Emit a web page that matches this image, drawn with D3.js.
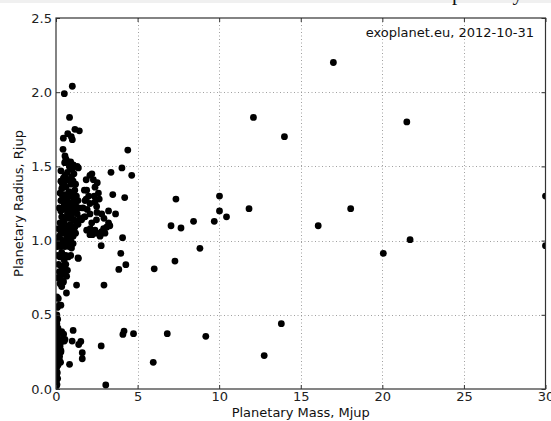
<!DOCTYPE html>
<html lang="en">
<head>
<meta charset="utf-8">
<script src="https://d3js.org/d3.v7.min.js"></script>
<style>
  body { margin: 0; background: #fff; }
  svg { display: block; }
  text { font-family: "DejaVu Sans", sans-serif; }
</style>
</head>
<body>
<svg width="551" height="421"></svg>
<script>
// planetary mass (Mjup) and radius (Rjup)
var mass = [
  0.51, 1.0, 0.83, 17.0, 12.1, 21.5, 14.0, 4.4, 4.04, 4.64, 3.37, 3.48, 4.21, 7.35, 10.02, 10.02, 10.45, 9.7, 8.43, 7.05,
  7.66, 11.83, 18.06, 16.07, 21.7, 20.06, 30.0, 30.0, 8.82, 7.29, 6.02, 4.08, 3.97, 3.85, 4.28, 3.65, 2.77, 2.94, 1.26, 1.35,
  0.64, 13.81, 9.18, 6.82, 4.75, 4.17, 4.1, 12.76, 5.96, 2.77, 3.05, 0.83, 1.05, 0.99, 1.39, 1.52, 1.61, 1.61,
  // upper cluster
  0.45, 0.72, 1.0, 0.94, 1.16, 1.43, 0.43, 0.55, 0.65, 0.53, 0.82, 1.06, 1.37, 0.6, 0.9,
  // right lobe
  2.08, 2.29, 2.39, 2.6, 1.88, 1.78, 2.08, 2.49, 2.8, 2.08, 1.78, 2.19, 2.39, 2.7, 2.8, 3.1, 3.0, 1.88, 2.08, 1.57,
  1.74, 2.34, 2.2, 2.53, 1.85, 2.39, 2.51, 2.48, 2.92, 3.22, 2.51, 2.1, 2.23, 1.73, 1.91, 1.85, 2.94, 3.22, 3.3, 1.65,
  2.0, 2.65,
  // dense cluster
  0.3, 0.45, 0.55, 0.7, 0.85, 1.0, 1.1, 1.3, 0.95, 0.4,
  0.3, 0.5, 0.6, 0.75, 0.9, 1.05, 1.2, 1.15, 0.35, 0.8,
  0.25, 0.4, 0.55, 0.65, 0.75, 0.9, 1.0, 1.1, 1.25, 1.35, 0.3, 0.5, 0.95, 1.2, 0.2,
  0.3, 0.45, 0.6, 0.7, 0.85, 1.0, 1.15, 1.3, 1.4, 0.35, 0.55, 0.8, 0.95, 1.1, 1.25, 1.45, 0.65, 1.05,
  0.25, 0.4, 0.5, 0.6, 0.75, 0.9, 1.0, 1.15, 0.3, 0.5, 0.7, 0.85, 1.05, 1.2, 1.35, 0.15,
  0.05, 0.15, 0.25, 0.35, 0.45, 0.6, 0.75, 0.9, 1.05, 0.1, 0.3, 0.55, 0.8, 0.95, 0.2, 0.65,
  0.1, 0.25, 0.35, 0.45, 0.6, 0.75, 0.9, 1.37, 0.5,
  0.15, 0.3, 0.4, 0.55, 0.7, 0.2, 0.35, 0.5, 0.65, 0.1, 0.25, 0.45, 0.6,
  0.25, 0.45, 0.35,
  // near zero mass
  0.05, 0.14, 0.2, 0.3, 0.08, 0.05, 0.1, 0.05, 0.12, 0.03, 0.1, 0.05, 0.15, 0.03, 0.1, 0.2, 0.05, 0.12, 0.03, 0.08,
  0.04, 0.1, 0.02, 0.06, 0.03, 0.25, 0.3, 0.22, 0.28, 0.18, 0.35, 0.35, 0.45, 0.55, 0.47, 0.51, 0.25, 0.3
];
var radius = [
  1.99, 2.04, 1.83, 2.20, 1.83, 1.80, 1.70, 1.61, 1.49, 1.44, 1.46, 1.31, 1.29, 1.28, 1.30, 1.20, 1.16, 1.13, 1.13, 1.10,
  1.085, 1.215, 1.215, 1.10, 1.006, 0.914, 1.30, 0.966, 0.948, 0.862, 0.81, 1.02, 0.914, 0.806, 0.838, 1.18, 0.966, 0.70, 0.70, 0.883,
  0.647, 0.44, 0.355, 0.373, 0.373, 0.39, 0.368, 0.225, 0.18, 0.29, 0.027, 0.166, 0.395, 0.323, 0.30, 0.32, 0.245, 0.204,
  1.69, 1.72, 1.68, 1.70, 1.75, 1.74, 1.615, 1.57, 1.54, 1.525, 1.50, 1.51, 1.49, 1.55, 1.53,
  1.44, 1.41, 1.36, 1.32, 1.34, 1.27, 1.25, 1.23, 1.18, 1.18, 1.16, 1.12, 1.07, 1.03, 1.06, 1.09, 1.05, 1.07, 1.04, 1.14,
  1.34, 1.30, 1.45, 1.39, 1.41, 1.26, 1.19, 1.14, 1.08, 1.12, 1.05, 1.08, 1.04, 1.16, 1.21, 1.28, 1.15, 1.20, 1.10, 1.22,
  1.30, 1.28,
  1.47, 1.42, 1.44, 1.46, 1.50, 1.48, 1.45, 1.50, 1.43, 1.38,
  1.40, 1.39, 1.36, 1.41, 1.38, 1.40, 1.38, 1.34, 1.35, 1.33,
  1.32, 1.30, 1.31, 1.28, 1.26, 1.30, 1.32, 1.28, 1.30, 1.27, 1.27, 1.25, 1.25, 1.24, 1.22,
  1.20, 1.22, 1.21, 1.18, 1.22, 1.19, 1.21, 1.18, 1.22, 1.16, 1.15, 1.15, 1.16, 1.14, 1.13, 1.15, 1.24, 1.23,
  1.12, 1.10, 1.13, 1.08, 1.10, 1.11, 1.07, 1.09, 1.06, 1.05, 1.06, 1.04, 1.03, 1.05, 1.11, 1.08,
  1.0, 0.99, 1.01, 0.98, 1.0, 0.99, 0.98, 1.0, 0.98, 0.96, 0.96, 0.96, 0.96, 0.95, 1.03, 1.02,
  0.9, 0.89, 0.92, 0.89, 0.9, 0.89, 0.9, 0.88, 0.87,
  0.84, 0.83, 0.81, 0.82, 0.8, 0.79, 0.77, 0.78, 0.76, 0.75, 0.74, 0.73, 0.84,
  0.71, 0.72, 0.69,
  0.62, 0.61, 0.565, 0.565, 0.55, 0.5, 0.47, 0.44, 0.41, 0.38, 0.35, 0.31, 0.28, 0.26, 0.23, 0.2, 0.19, 0.16, 0.14, 0.11,
  0.09, 0.07, 0.05, 0.03, 0.02, 0.29, 0.25, 0.22, 0.18, 0.3, 0.386, 0.32, 0.34, 0.335, 0.37, 0.323, 0.38, 0.26
];
var xTicks = [0, 5, 10, 15, 20, 25, 30];
var yTicks = [0.0, 0.5, 1.0, 1.5, 2.0, 2.5];
var note = 'exoplanet.eu, 2012-10-31';

var svg = d3.select('svg');
var pl = 56, pr = 545.5, pt = 18, pb = 389;

var x = d3.scaleLinear().domain([0, 30]).range([pl, pr]);
var y = d3.scaleLinear().domain([0, 2.5]).range([pb, pt]);

// strip of the page above the figure, with the feet of a cut caption line
svg.append('rect').attr('x', 0).attr('y', 0).attr('width', 551).attr('height', 3).style('fill', '#f0f0f0');
svg.append('text')
  .attr('x', 452).attr('y', -0.5)
  .style('font-family', '"Liberation Serif", serif')
  .style('font-size', '21px')
  .style('letter-spacing', '-0.9px')
  .style('fill', '#111')
  .text('planetary');

// grid
var grid = svg.append('g').style('stroke', '#888').style('stroke-width', 0.8).style('stroke-dasharray', '1,2.5');
grid.selectAll('.gx').data(xTicks.slice(1, -1)).enter().append('line')
  .attr('x1', function(d) { return Math.round(x(d)) + 0.5; })
  .attr('x2', function(d) { return Math.round(x(d)) + 0.5; })
  .attr('y1', pt).attr('y2', pb);
grid.selectAll('.gy').data(yTicks.slice(1, -1)).enter().append('line')
  .attr('y1', function(d) { return Math.round(y(d)) + 0.5; })
  .attr('y2', function(d) { return Math.round(y(d)) + 0.5; })
  .attr('x1', pl).attr('x2', pr);

// points
svg.append('clipPath').attr('id', 'plotclip')
  .append('rect').attr('x', pl).attr('y', pt).attr('width', pr - pl).attr('height', pb - pt);
svg.append('g')
  .attr('clip-path', 'url(#plotclip)')
  .selectAll('circle')
  .data(d3.range(mass.length))
  .enter()
  .append('circle')
  .attr('cx', function(i) { return x(mass[i]); })
  .attr('cy', function(i) { return y(radius[i]); })
  .attr('r', 3.4)
  .style('fill', '#000');

// axes: ticks inside on all four sides
function styleAxis(g) {
  g.select('.domain').remove();
  g.selectAll('.tick line').style('stroke', '#333').style('stroke-width', 1);
  g.selectAll('.tick text').style('font-family', '"DejaVu Sans", sans-serif').style('font-size', '13px').style('fill', '#222');
}
svg.append('g').attr('transform', 'translate(0,' + pb + ')')
  .call(d3.axisBottom(x).tickValues(xTicks).tickFormat(d3.format('d')).tickSizeInner(-4).tickSizeOuter(0).tickPadding(3))
  .call(styleAxis);
svg.append('g').attr('transform', 'translate(0,' + pt + ')')
  .call(d3.axisTop(x).tickValues(xTicks).tickFormat('').tickSizeInner(-4).tickSizeOuter(0))
  .call(styleAxis);
svg.append('g').attr('transform', 'translate(' + pl + ',0)')
  .call(d3.axisLeft(y).tickValues(yTicks).tickFormat(d3.format('.1f')).tickSizeInner(-4).tickSizeOuter(0).tickPadding(4))
  .call(styleAxis);
svg.append('g').attr('transform', 'translate(' + pr + ',0)')
  .call(d3.axisRight(y).tickValues(yTicks).tickFormat('').tickSizeInner(-4).tickSizeOuter(0))
  .call(styleAxis);

// frame
svg.append('rect')
  .attr('x', pl).attr('y', pt)
  .attr('width', pr - pl).attr('height', pb - pt)
  .style('fill', 'none').style('stroke', '#333').style('stroke-width', 1.2);

// labels
svg.append('text')
  .attr('x', (pl + pr) / 2).attr('y', 417)
  .style('text-anchor', 'middle').style('font-size', '13px').style('fill', '#111')
  .text('Planetary Mass, Mjup');
svg.append('text')
  .attr('transform', 'rotate(-90)')
  .attr('x', -(pt + pb) / 2).attr('y', 23)
  .style('text-anchor', 'middle').style('font-size', '13px').style('fill', '#111')
  .text('Planetary Radius, Rjup');
svg.append('text')
  .attr('x', 534).attr('y', 37)
  .style('text-anchor', 'end').style('font-size', '13px').style('fill', '#111')
  .text(note);
</script>
</body>
</html>
